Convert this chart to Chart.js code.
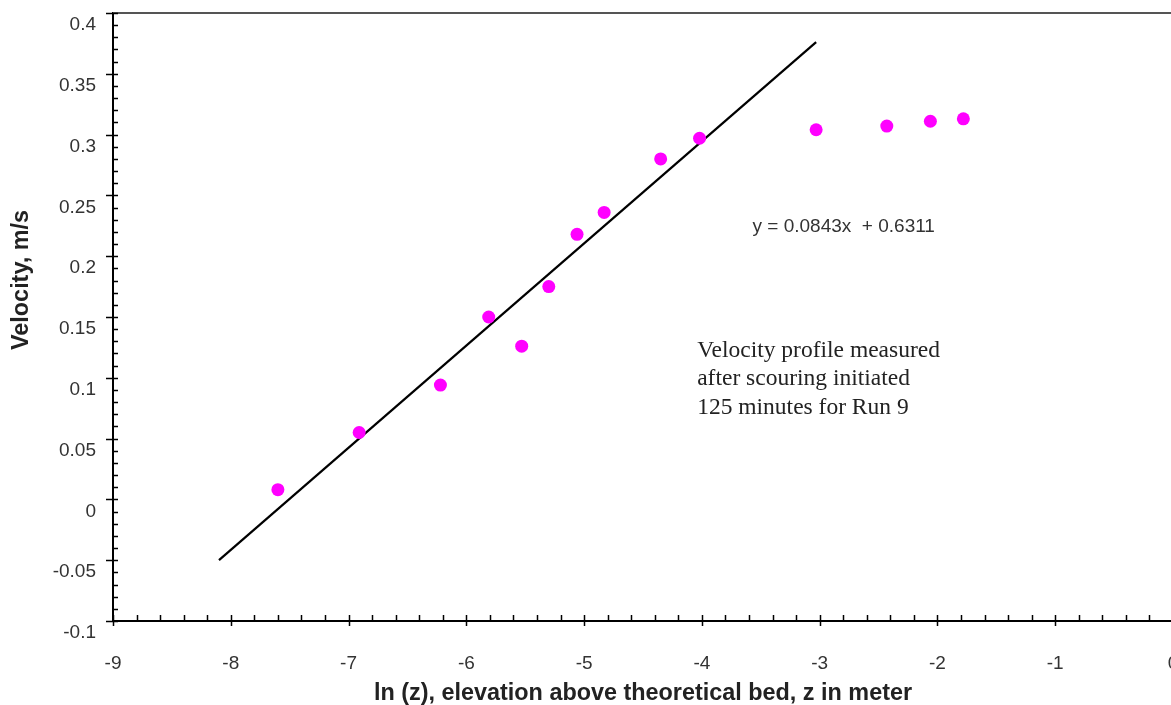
<!DOCTYPE html>
<html>
<head>
<meta charset="utf-8">
<script src="https://cdn.jsdelivr.net/npm/chart.js@4.4.1/dist/chart.umd.min.js"></script>
<style>
  html, body { margin: 0; padding: 0; overflow: hidden; background: #fff; }
  canvas { display: block; }
</style>
</head>
<body>
<canvas id="velocityChart" width="1190" height="705"></canvas>
<script>
// ============================================================================
// Data
// ============================================================================

// ln(z) of each measuring point
const LN_Z = [-7.60, -6.91, -6.22, -5.81, -5.53, -5.30, -5.06, -4.83, -4.35, -4.02, -3.03, -2.43, -2.06, -1.78];
// measured velocity, m/s
const VELOCITY = [0.008, 0.055, 0.094, 0.150, 0.126, 0.175, 0.218, 0.236, 0.280, 0.297, 0.304, 0.307, 0.311, 0.313];

// end points of the fitted line y = 0.0843x + 0.6311
const TREND_X = [-8.10, -3.03];
const TREND_Y = [-0.050, 0.376];

const X_TICKS = [-9, -8, -7, -6, -5, -4, -3, -2, -1, 0];
const Y_TICKS = [-0.1, -0.05, 0, 0.05, 0.1, 0.15, 0.2, 0.25, 0.3, 0.35, 0.4];

const EQUATION_TEXT = 'y = 0.0843x  + 0.6311';
const NOTE_LINES = ['Velocity profile measured', 'after scouring initiated', '125 minutes for Run 9'];
const X_TITLE = 'ln (z), elevation above theoretical bed, z in meter';
const Y_TITLE = 'Velocity, m/s';

// ============================================================================
// Helpers
// ============================================================================

const SANS = "'Liberation Sans', Arial, sans-serif";
const SERIF = "'Liberation Serif', 'Times New Roman', serif";

function formatTick(v) {
  return String(Number(v.toFixed(2)));
}

function toPoints(xs, ys) {
  return xs.map((x, i) => ({ x: x, y: ys[i] }));
}

// keep the plot area where the reference has it (no room reserved for edge labels)
function noEdgePadding(scale) {
  scale.paddingLeft = 0;
  scale.paddingRight = 0;
  scale.paddingTop = 0;
  scale.paddingBottom = 0;
}

/**
 * Axis decoration: frame line on top, Excel-style major / minor ticks,
 * y-axis title and the text boxes inside the plot
 */
const decorPlugin = {
  id: 'decor',
  afterDraw(chart) {
    const { ctx, chartArea: a, scales: { x, y } } = chart;
    ctx.save();

    // top frame line
    ctx.strokeStyle = '#555';
    ctx.lineWidth = 2;
    ctx.beginPath();
    ctx.moveTo(a.left, a.top);
    ctx.lineTo(chart.width, a.top);
    ctx.stroke();

    // ticks
    ctx.strokeStyle = '#000';
    ctx.lineWidth = 1.5;
    ctx.beginPath();
    // x: minor every 0.2 (inside), major every 1 (crossing)
    for (let i = 0; i <= 45; i++) {
      const px = Math.round(x.getPixelForValue(X_TICKS[0] + i * 0.2)) + 0.5;
      ctx.moveTo(px, a.bottom - 6);
      ctx.lineTo(px, i % 5 === 0 ? a.bottom + 5 : a.bottom);
    }
    // y: minor every 0.01 (inside), major every 0.05 (crossing)
    for (let i = 0; i <= 50; i++) {
      const py = Math.round(y.getPixelForValue(Y_TICKS[0] + i * 0.01)) + 0.5;
      ctx.moveTo(i % 5 === 0 ? a.left - 7 : a.left, py);
      ctx.lineTo(a.left + 5, py);
    }
    ctx.stroke();

    // y-axis title
    ctx.fillStyle = '#222';
    ctx.font = 'bold 23.4px ' + SANS;
    ctx.textAlign = 'center';
    ctx.textBaseline = 'middle';
    ctx.translate(22, 280);
    ctx.rotate(-Math.PI / 2);
    ctx.fillText(Y_TITLE, 0, 0);
    ctx.setTransform(1, 0, 0, 1, 0, 0);

    // regression equation
    ctx.fillStyle = '#333';
    ctx.font = '19px ' + SANS;
    ctx.textAlign = 'left';
    ctx.textBaseline = 'middle';
    ctx.fillText(EQUATION_TEXT, x.getPixelForValue(-3.57), y.getPixelForValue(0.224));

    // note
    ctx.fillStyle = '#222';
    ctx.font = '23.5px ' + SERIF;
    ctx.textBaseline = 'alphabetic';
    const noteX = x.getPixelForValue(-4.04);
    const noteY = y.getPixelForValue(0.1175);
    NOTE_LINES.forEach((line, i) => {
      ctx.fillText(line, noteX, noteY + i * 28.6);
    });

    ctx.restore();
  }
};

// ============================================================================
// Chart
// ============================================================================

const ctx = document.getElementById('velocityChart').getContext('2d');

new Chart(ctx, {
  type: 'scatter',
  data: {
    datasets: [
      {
        label: 'Trend',
        type: 'line',
        data: toPoints(TREND_X, TREND_Y),
        borderColor: '#000',
        borderWidth: 2.2,
        pointRadius: 0,
        fill: false,
        order: 2
      },
      {
        label: 'Velocity',
        data: toPoints(LN_Z, VELOCITY),
        backgroundColor: '#ff00ff',
        borderWidth: 0,
        pointRadius: 6.5,
        order: 1
      }
    ]
  },
  options: {
    responsive: false,
    animation: false,
    devicePixelRatio: 1,
    layout: { padding: { top: 13, right: 17, left: 0, bottom: 0 } },
    plugins: {
      legend: { display: false },
      tooltip: { enabled: false }
    },
    scales: {
      x: {
        type: 'linear',
        min: X_TICKS[0],
        max: X_TICKS[X_TICKS.length - 1],
        afterFit(scale) { scale.height = 84; noEdgePadding(scale); },
        afterBuildTicks(scale) { scale.ticks = X_TICKS.map(v => ({ value: v })); },
        grid: { drawOnChartArea: false, drawTicks: false },
        border: { display: true, color: '#000', width: 2 },
        ticks: {
          padding: 31,
          color: '#333',
          font: { family: SANS, size: 19 },
          maxRotation: 0,
          autoSkip: false,
          callback: v => formatTick(v)
        },
        title: {
          display: true,
          text: X_TITLE,
          color: '#222',
          font: { family: SANS, size: 23.4, weight: 'bold', lineHeight: 1 },
          padding: { top: 0, bottom: 0 }
        }
      },
      y: {
        type: 'linear',
        min: Y_TICKS[0],
        max: Y_TICKS[Y_TICKS.length - 1],
        afterFit(scale) { scale.width = 113; noEdgePadding(scale); },
        afterBuildTicks(scale) { scale.ticks = Y_TICKS.map(v => ({ value: v })); },
        grid: { drawOnChartArea: false, drawTicks: false },
        border: { display: true, color: '#000', width: 2 },
        ticks: {
          padding: 17,
          labelOffset: 12,
          color: '#333',
          font: { family: SANS, size: 19 },
          autoSkip: false,
          callback: v => formatTick(v)
        }
      }
    }
  },
  plugins: [decorPlugin]
});
</script>
</body>
</html>
